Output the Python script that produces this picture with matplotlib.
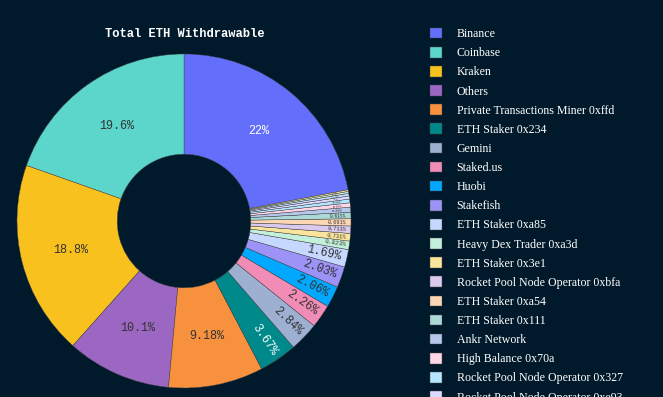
import numpy as np
import matplotlib
matplotlib.use("Agg")
import matplotlib.pyplot as plt

bg = "#011a2b"

names = ["Binance", "Coinbase", "Kraken", "Others", "Private Transactions Miner 0xffd",
         "ETH Staker 0x234", "Gemini", "Staked.us", "Huobi", "Stakefish",
         "ETH Staker 0xa85", "Heavy Dex Trader 0xa3d", "ETH Staker 0x3e1",
         "Rocket Pool Node Operator 0xbfa", "ETH Staker 0xa54", "ETH Staker 0x111",
         "Ankr Network", "High Balance 0x70a", "Rocket Pool Node Operator 0x327",
         "Rocket Pool Node Operator 0xe93", "ETH Staker 0x5d2", "ETH Staker 0x8f0",
         "Bitfinex"]
values = [22.0, 19.6, 18.8, 10.1, 9.18, 3.67, 2.84, 2.26, 2.06, 2.03,
          1.69, 0.823, 0.731, 0.713, 0.691, 0.615, 0.49, 0.42, 0.36, 0.30,
          0.25, 0.19, 0.15]
colors = ["#636efa", "#5cd6ca", "#f8c11e", "#9c66c3", "#f7913e", "#00898a",
          "#9db0d2", "#f08cb5", "#00a9ff", "#9d92f6", "#c6d8ff", "#c3f0da",
          "#fbe59d", "#d9c9ec", "#fdd6b3", "#aad9d6", "#b6c7ec", "#ffd6e8",
          "#b4e6ff", "#dcd9ff", "#c6d8ff", "#c3f0da", "#fbe59d"]
dark_label = ["Binance", "ETH Staker 0x234"]

fig = plt.figure(figsize=(6.63, 3.97), dpi=100, facecolor=bg)
ax = fig.add_axes([17 / 663, 9 / 397, 334 / 663, 334 / 397])
ax.set_facecolor(bg)

total = sum(values)
start = 90 - values[0] / total * 360
wedges, _ = ax.pie(values, colors=colors, startangle=start, counterclock=True,
                   radius=1, wedgeprops=dict(width=0.6, edgecolor="#444444", linewidth=0.3))
ax.set_xlim(-1, 1)
ax.set_ylim(-1, 1)

for w, v, n in zip(wedges, values, names):
    f = v / total
    th = np.deg2rad((w.theta1 + w.theta2) / 2)
    txt = f"{f * 100:.3g}%"
    col = "white" if n in dark_label else "#333333"
    if f >= 0.05:
        r, rot, fs = 0.7, 0, 8.5
    else:
        rot = np.rad2deg(th)
        if np.cos(th) < 0:
            rot += 180
        if f >= 0.015:
            r = 0.86
        else:
            r = 0.92
        arc = r * 167 * f * 2 * np.pi
        fs = max(min(8.5, arc * 0.55), 1.5)
    ax.text(r * np.cos(th), r * np.sin(th), txt, ha="center", va="center",
            rotation=rot, rotation_mode="anchor", fontsize=fs, color=col,
            family="Liberation Mono")

fig.text(185 / 663, 1 - 34 / 397, "Total ETH Withdrawable", ha="center", va="center",
         color="white", fontsize=8.7, fontweight="bold", family="Liberation Mono")

leg = fig.legend(wedges, names, loc="upper left", bbox_to_anchor=(0.649, 0.930),
                 frameon=False, prop={"family": "Liberation Serif", "size": 8.6},
                 handlelength=1.0, handleheight=1.0, handletextpad=1.2,
                 labelspacing=0.56, borderaxespad=0, borderpad=0)
for t in leg.get_texts():
    t.set_color("white")

fig.savefig("out.png", dpi=100, facecolor=bg)
